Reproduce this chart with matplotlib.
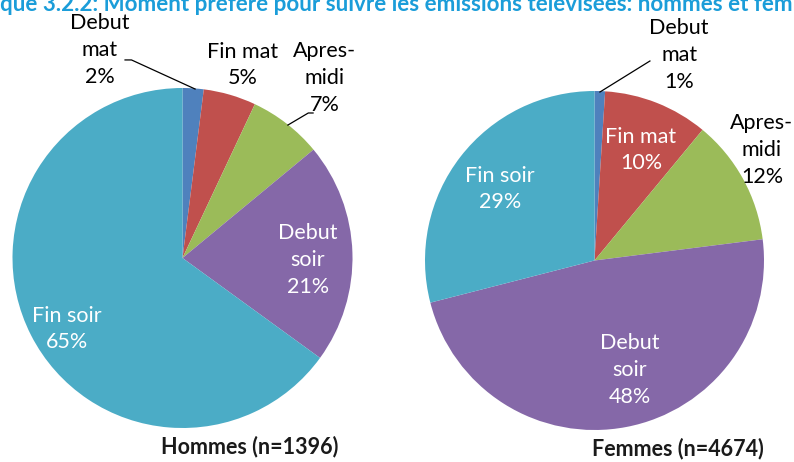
import matplotlib.pyplot as plt

plt.rcParams['font.family'] = ['Lato', 'DejaVu Sans']

title = "Graphique 3.2.2: Moment préféré pour suivre les émissions télévisées: hommes et femmes"
categories = ["Debut\nmat", "Fin mat", "Apres-\nmidi", "Debut\nsoir", "Fin soir"]
hommes = [2, 5, 7, 21, 65]
femmes = [1, 10, 12, 48, 29]
groups = ["Hommes (n=1396)", "Femmes (n=4674)"]
colors = ["#4F81BD", "#C0504D", "#9BBB59", "#8568A8", "#4BACC6"]

W, H = 794, 462
fig = plt.figure(figsize=(W / 100, H / 100), dpi=100)


def pie_axes(cx, cy, r):
    return fig.add_axes([(cx - r) / W, (H - cy - r) / H, 2 * r / W, 2 * r / H])


# label positions in pie units (radius = 1), and text colour
left_pos = [(-0.485, 1.224, 'black'), (0.356, 1.135, 'black'), (0.838, 1.059, 'black'),
            (0.738, -0.012, 'white'), (-0.679, -0.418, 'white')]
right_pos = [(0.499, 1.212, 'black'), (0.274, 0.652, 'white'), (0.988, 0.652, 'black'),
             (0.209, -0.646, 'white'), (-0.558, 0.422, 'white')]
left_lines = [[(-0.338, 1.165), (-0.30, 1.165), (0.074, 0.994)],
              [(0.768, 0.853), (0.74, 0.853), (0.62, 0.782)]]
right_lines = [[(0.327, 1.177), (0.032, 0.994)]]

setup = [(182.5, 258, 170, hommes, left_pos, left_lines, groups[0], 250, 447),
         (594.5, 260.5, 169.5, femmes, right_pos, right_lines, groups[1], 678, 449)]

for cx, cy, r, vals, pos, lines, name, nx, ny in setup:
    ax = pie_axes(cx, cy, r)
    ax.pie(vals, colors=colors, startangle=90, counterclock=False,
           wedgeprops=dict(edgecolor='none'))
    ax.set_xlim(-1, 1)
    ax.set_ylim(-1, 1)
    ax.set_aspect('auto')
    for cat, v, (x, y, c) in zip(categories, vals, pos):
        ax.text(x, y, f"{cat}\n{v}%", ha='center', va='center', color=c,
                fontsize=15.5, linespacing=1.42)
    for pts in lines:
        ax.plot([p[0] for p in pts], [p[1] for p in pts], color='black',
                lw=0.9, clip_on=False)
    fig.text(nx / W, 1 - ny / H, name, ha='center', va='center',
             fontsize=15.5, fontweight='bold', color='#1a1a1a')

# title, clipped at the figure edges as in the source
visible = title[len("Graphi"):-len("mes")]
renderer = fig.canvas.get_renderer()
t = fig.text(0, 0, visible, fontsize=10, fontweight='bold')
w = t.get_window_extent(renderer).width
t.remove()
fs = 10 * W / w
pre = fig.text(0, 0, "Graphi", fontsize=fs, fontweight='bold')
pw = pre.get_window_extent(renderer).width
pre.remove()
fig.text(-pw / W, 1 - 11 / H, title, fontsize=fs, fontweight='bold',
         color='#1B9DD9', ha='left', va='baseline')

fig.savefig('out.png', dpi=100)
